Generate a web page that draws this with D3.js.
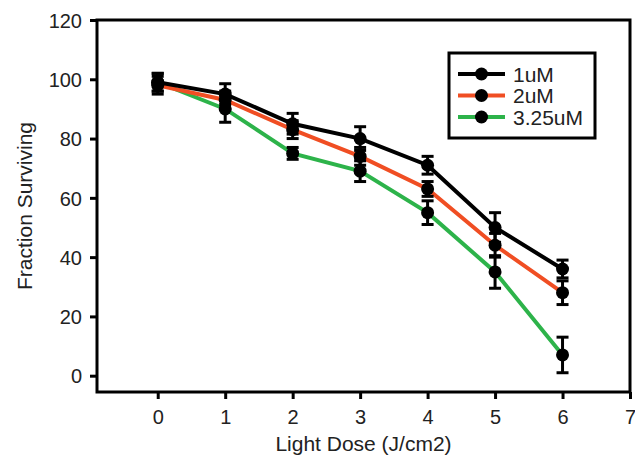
<!DOCTYPE html>
<html>
<head>
<meta charset="utf-8">
<script src="https://d3js.org/d3.v7.min.js"></script>
<style>
  body { margin: 0; background: #fff; }
  text { font-family: "Liberation Sans", Arial, sans-serif; fill: #222; }
</style>
</head>
<body>
<div id="chart"></div>
<script>
// data
var doses = [0, 1, 2, 3, 4, 5, 6];
var seriesNames = ["1uM", "2uM", "3.25uM"];
var seriesColors = ["#000000", "#f04e23", "#2db34a"];
var values1 = [99, 95, 85, 80, 71, 50, 36];
var values2 = [98, 93, 83, 74, 63, 44, 28];
var values3 = [99, 90, 75, 69, 55, 35, 7];
var errors1 = [3, 3.5, 3.5, 4, 3, 5, 3];
var errors2 = [3, 3, 3, 3, 2.5, 4, 4];
var errors3 = [3, 4.5, 2, 3.5, 4, 5.5, 6];
var xTicks = [0, 1, 2, 3, 4, 5, 6, 7];
var yTicks = [0, 20, 40, 60, 80, 100, 120];

var margin = {top: 20, right: 5, bottom: 64, left: 97},
    width = 635 - margin.left - margin.right,
    height = 456 - margin.top - margin.bottom;

var svg = d3.select("#chart")
  .append("svg")
    .attr("width", 635)
    .attr("height", 456)
  .append("g")
    .attr("transform", "translate(" + margin.left + "," + margin.top + ")");

var x = d3.scaleLinear().domain([-0.9, 7]).range([0, width]);
var y = d3.scaleLinear().domain([-5.5, 120]).range([height, 0]);

// axes
var xAxis = svg.append("g")
    .attr("transform", "translate(0," + height + ")")
    .call(d3.axisBottom(x).tickValues(xTicks).tickFormat(d3.format("d")).tickSize(7).tickPadding(11));
var yAxis = svg.append("g")
    .call(d3.axisLeft(y).tickValues(yTicks).tickFormat(d3.format("d")).tickSize(7).tickPadding(8));

[xAxis, yAxis].forEach(function(a) {
  a.select(".domain").remove();
  a.selectAll(".tick line").attr("stroke", "#000").attr("stroke-width", 3);
  a.selectAll(".tick text").style("font-size", "20px").attr("fill", "#222");
});
yAxis.selectAll(".tick text").attr("dy", "0.36em");

// frame
svg.append("rect")
    .attr("x", 0).attr("y", 0)
    .attr("width", width).attr("height", height)
    .attr("fill", "none").attr("stroke", "#000").attr("stroke-width", 3);

var series = [
  {name: seriesNames[0], color: seriesColors[0], values: values1, errors: errors1},
  {name: seriesNames[1], color: seriesColors[1], values: values2, errors: errors2},
  {name: seriesNames[2], color: seriesColors[2], values: values3, errors: errors3}
];

var line = d3.line()
  .x(function(d, i) { return x(doses[i]); })
  .y(function(d) { return y(d); });

// lines (drawn bottom series first so black sits on top)
series.slice().reverse().forEach(function(s) {
  svg.append("path")
    .datum(s.values)
    .attr("fill", "none")
    .attr("stroke", s.color)
    .attr("stroke-width", 4)
    .attr("d", line);
});

// error bars and markers
series.forEach(function(s) {
  var g = svg.append("g");
  s.values.forEach(function(v, i) {
    var cx = x(doses[i]), e = s.errors[i];
    g.append("line")
      .attr("x1", cx).attr("x2", cx)
      .attr("y1", y(v - e)).attr("y2", y(v + e))
      .attr("stroke", "#000").attr("stroke-width", 3);
    [v - e, v + e].forEach(function(c) {
      g.append("line")
        .attr("x1", cx - 6).attr("x2", cx + 6)
        .attr("y1", y(c)).attr("y2", y(c))
        .attr("stroke", "#000").attr("stroke-width", 3);
    });
    g.append("circle")
      .attr("cx", cx).attr("cy", y(v))
      .attr("r", 6.5)
      .attr("fill", "#000");
  });
});

// axis titles
svg.append("text")
    .attr("x", width / 2).attr("y", height + 59)
    .attr("text-anchor", "middle")
    .style("font-size", "21px")
    .text("Light Dose (J/cm2)");
svg.append("text")
    .attr("transform", "translate(" + (-65) + "," + (height / 2) + ") rotate(-90)")
    .attr("text-anchor", "middle")
    .style("font-size", "21px")
    .text("Fraction Surviving");

// legend
var legend = svg.append("g").attr("transform", "translate(" + (449 - margin.left) + "," + (53 - margin.top) + ")");
legend.append("rect")
    .attr("width", 146).attr("height", 85)
    .attr("fill", "#fff").attr("stroke", "#000").attr("stroke-width", 3);
series.forEach(function(s, i) {
  var ly = 21 + i * 21.5;
  legend.append("line")
    .attr("x1", 9).attr("x2", 56)
    .attr("y1", ly).attr("y2", ly)
    .attr("stroke", s.color).attr("stroke-width", 4);
  legend.append("circle")
    .attr("cx", 32.5).attr("cy", ly).attr("r", 6.5).attr("fill", "#000");
  legend.append("text")
    .attr("x", 64).attr("y", ly + 7.5)
    .style("font-size", "21px")
    .text(s.name);
});
</script>
</body>
</html>
